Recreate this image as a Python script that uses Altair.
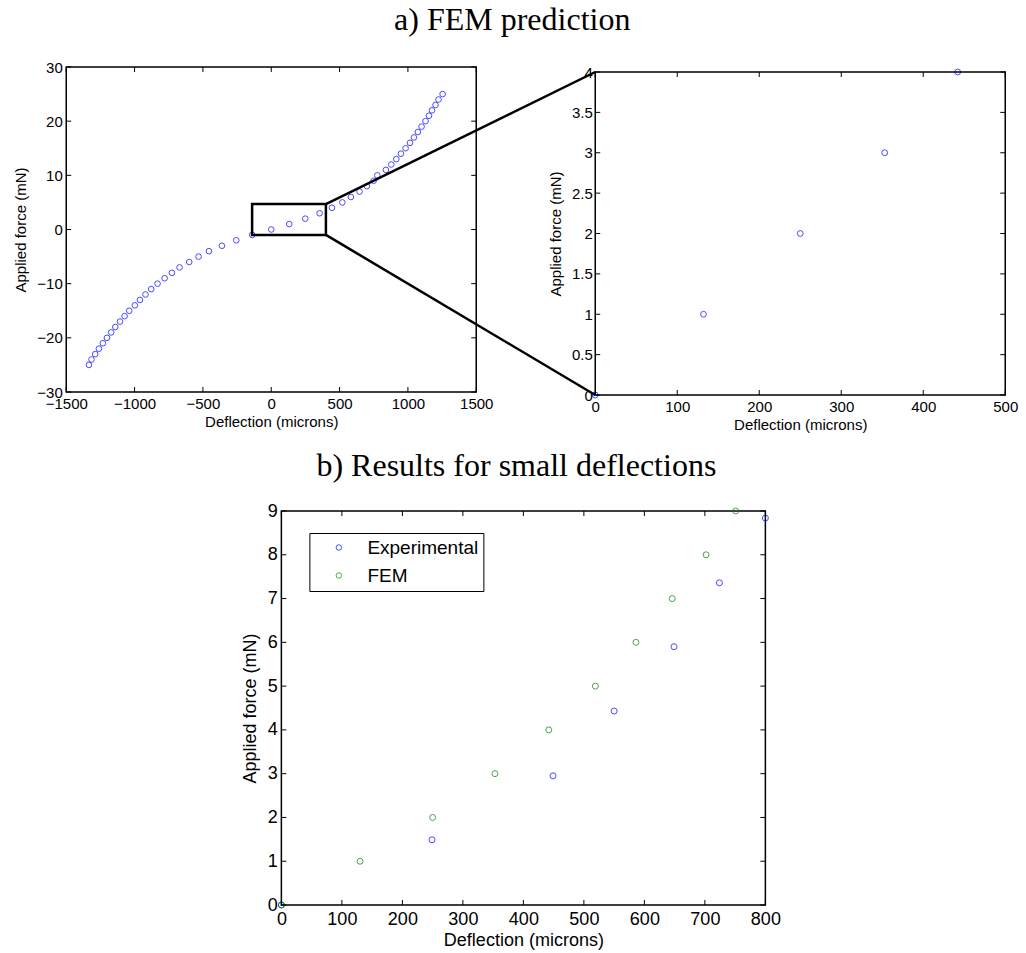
import altair as alt
import pandas as pd

# ---------------- data ----------------
# a) full FEM prediction (left panel)
fem_full_x = [-1334, -1315, -1288, -1261, -1232, -1202, -1171, -1141, -1107, -1073,
              -1039, -998, -961, -920, -878, -832, -780, -727, -671, -600,
              -532, -456, -361, -256, -139, 0, 132, 249, 354, 444,
              520, 583, 646, 700, 749, 776, 839, 878, 915, 949,
              983, 1015, 1044, 1073, 1100, 1129, 1154, 1176, 1202, 1224, 1254]
fem_full_y = [-25, -24, -23, -22, -21, -20, -19, -18, -17, -16,
              -15, -14, -13, -12, -11, -10, -9, -8, -7, -6,
              -5, -4, -3, -2, -1, 0, 1, 2, 3, 4,
              5, 6, 7, 8, 9, 10, 11, 12, 13, 14,
              15, 16, 17, 18, 19, 20, 21, 22, 23, 24, 25]
zoom_box_x = [-140, 400]
zoom_box_y = [-1.0, 4.7]

# a) zoomed FEM prediction (right panel)
fem_zoom_x = [0, 132, 250, 353, 442]
fem_zoom_y = [0, 1, 2, 3, 4]

# b) small deflections
exp_x = [0, 249, 449, 550, 649, 724, 800]
exp_y = [0, 1.49, 2.95, 4.43, 5.90, 7.36, 8.84]
fem_x = [0, 130, 250, 353, 442, 519, 586, 646, 702, 751]
fem_y = [0, 1, 2, 3, 4, 5, 6, 7, 8, 9]
series_names = ["Experimental", "FEM"]
series_colors = ["#0000ff", "#008000"]

# axis domains and tick values
a_xdomain, a_ydomain = [-1500, 1500], [-30, 30]
z_xdomain, z_ydomain = [0, 500], [0, 4]
b_xdomain, b_ydomain = [0, 800], [0, 9]
a_xticks = [-1500, -1000, -500, 0, 500, 1000, 1500]
a_yticks = [-30, -20, -10, 0, 10, 20, 30]
z_xticks = [0, 100, 200, 300, 400, 500]
z_yticks = [0, 0.5, 1, 1.5, 2, 2.5, 3, 3.5, 4]
b_xticks = [0, 100, 200, 300, 400, 500, 600, 700, 800]
b_yticks = [0, 1, 2, 3, 4, 5, 6, 7, 8, 9]

FONT = "Liberation Sans"
SERIF = "Liberation Serif"

# layout (pixels)
W1, H1 = 410, 325
W2, H2, TOP2 = 410, 328, 5
GAP = 119
W3, H3 = 484, 394
TICK = 5
XT = "Deflection (microns)"
YT = "Applied force (mN)"


def axis(values, size, label_pad, title_pad, fmt=None):
    kw = dict(values=values, labelFontSize=size, titleFontSize=size,
              labelPadding=label_pad, titlePadding=title_pad,
              labelFlush=False, labelOverlap=False, ticks=False, domain=False,
              grid=False, labelFont=FONT, titleFont=FONT, labelColor="black",
              titleColor="black", titleFontWeight="normal")
    if fmt:
        kw["format"] = fmt
    return alt.Axis(**kw)


def inward_ticks(xt, yt, xenc, yenc, W, H, top=0):
    xdf = pd.DataFrame({"t": xt})
    ydf = pd.DataFrame({"t": yt})
    rx = alt.Chart(xdf).mark_rule(color="black", strokeWidth=1)
    ry = alt.Chart(ydf).mark_rule(color="black", strokeWidth=1)
    return [
        rx.encode(x=xenc("t"), y=alt.value(H), y2=alt.value(H - TICK)),
        rx.encode(x=xenc("t"), y=alt.value(top), y2=alt.value(top + TICK)),
        ry.encode(y=yenc("t"), x=alt.value(0), x2=alt.value(TICK)),
        ry.encode(y=yenc("t"), x=alt.value(W), x2=alt.value(W - TICK)),
    ]


def make_enc(kind, scale, ax, title):
    def f(field):
        if kind == "x":
            return alt.X(f"{field}:Q", scale=scale, axis=ax, title=title)
        return alt.Y(f"{field}:Q", scale=scale, axis=ax, title=title)
    return f


# ---------------- left panel ----------------
xe1 = make_enc("x", alt.Scale(domain=a_xdomain, nice=False, zero=False),
               axis(a_xticks, 15, 4, 3, fmt="d"), XT)
ye1 = make_enc("y", alt.Scale(domain=a_ydomain, nice=False, zero=False),
               axis(a_yticks, 15, 4, 8, fmt="d"), YT)
df_a = pd.DataFrame({"x": fem_full_x, "y": fem_full_y})
pts_a = alt.Chart(df_a).mark_point(shape="circle", filled=False, color="#0000ff",
                                   size=32, strokeWidth=1).encode(x=xe1("x"), y=ye1("y"))
df_box = pd.DataFrame({"x0": [zoom_box_x[0]], "x1": [zoom_box_x[1]],
                       "y0": [zoom_box_y[0]], "y1": [zoom_box_y[1]]})
box = alt.Chart(df_box).mark_rect(fillOpacity=0, stroke="black", strokeWidth=2.5).encode(
    x=xe1("x0"), x2="x1:Q", y=ye1("y0"), y2="y1:Q")
conn_top = alt.Chart(df_box).mark_rule(color="black", strokeWidth=2.5).encode(
    x=xe1("x1"), y=ye1("y1"), x2=alt.value(W1 + GAP), y2=alt.value(TOP2))
conn_bot = alt.Chart(df_box).mark_rule(color="black", strokeWidth=2.5).encode(
    x=xe1("x1"), y=ye1("y0"), x2=alt.value(W1 + GAP), y2=alt.value(H2))
left = alt.layer(pts_a, *inward_ticks(a_xticks, a_yticks, xe1, ye1, W1, H1),
                 box, conn_top, conn_bot).properties(
    width=W1, height=H1,
    title=alt.TitleParams("a) FEM prediction", font=SERIF, fontSize=32,
                          fontWeight="normal", color="black", anchor="middle",
                          frame="group", dx=241, offset=23))

# ---------------- right panel ----------------
xe2 = make_enc("x", alt.Scale(domain=z_xdomain, nice=False, zero=False),
               axis(z_xticks, 15, 4, 3), XT)
ye2 = make_enc("y", alt.Scale(domain=z_ydomain, nice=False, zero=False, range=[H2, TOP2]),
               axis(z_yticks, 15, 3, 8, fmt="~g"), YT)
df_z = pd.DataFrame({"x": fem_zoom_x, "y": fem_zoom_y})
pts_z = alt.Chart(df_z).mark_point(shape="circle", filled=False, color="#0000ff",
                                   size=34, strokeWidth=1).encode(x=xe2("x"), y=ye2("y"))
df_frame = pd.DataFrame({"x0": [z_xdomain[0]], "x1": [z_xdomain[1]],
                         "y0": [z_ydomain[0]], "y1": [z_ydomain[1]]})
frame2 = alt.Chart(df_frame).mark_rect(fillOpacity=0, stroke="black", strokeWidth=1.5).encode(
    x=xe2("x0"), x2="x1:Q", y=ye2("y0"), y2="y1:Q")
right = alt.layer(pts_z, *inward_ticks(z_xticks, z_yticks, xe2, ye2, W2, H2, top=TOP2),
                  frame2).properties(
    width=W2, height=H2, view=alt.ViewBackground(strokeOpacity=0))

top = alt.hconcat(left, right, spacing=GAP, bounds="flush")

# ---------------- bottom panel ----------------
xe3 = make_enc("x", alt.Scale(domain=b_xdomain, nice=False, zero=False),
               axis(b_xticks, 18, 5, 3), XT)
ye3 = make_enc("y", alt.Scale(domain=b_ydomain, nice=False, zero=False),
               axis(b_yticks, 18, 4, 8), YT)
df_b = pd.concat([
    pd.DataFrame({"x": exp_x, "y": exp_y, "s": series_names[0]}),
    pd.DataFrame({"x": fem_x, "y": fem_y, "s": series_names[1]}),
], ignore_index=True)
pts_b = alt.Chart(df_b).mark_point(shape="circle", filled=False, size=36, strokeWidth=1).encode(
    x=xe3("x"), y=ye3("y"),
    color=alt.Color("s:N", scale=alt.Scale(domain=series_names, range=series_colors),
                    legend=alt.Legend(title=None, orient="none", legendX=28, legendY=22,
                                      strokeColor="black", fillColor="white", padding=5,
                                      symbolOffset=15, labelOffset=19, rowPadding=8,
                                      labelFontSize=19, labelFont=FONT, labelColor="black",
                                      symbolType="circle", symbolSize=30,
                                      symbolStrokeWidth=1)),
    order=alt.Order("s:N"),
)
# invisible helper that widens the panel's bounds on the right so the centred
# panel sits where the reference has it
pad_b = alt.Chart(pd.DataFrame({"v": [0]})).mark_point(opacity=0, size=1).encode(
    x=alt.value(W3 + 36), y=alt.value(0))
bottom = alt.layer(pts_b, *inward_ticks(b_xticks, b_yticks, xe3, ye3, W3, H3), pad_b).properties(
    width=W3, height=H3,
    title=alt.TitleParams("b) Results for small deflections", font=SERIF, fontSize=32,
                          fontWeight="normal", color="black", anchor="middle",
                          frame="group", dx=-7, offset=19))

chart = alt.vconcat(top, bottom, center=True, spacing=17).resolve_legend(
    color="independent").properties(
    padding={"left": 13, "top": 3, "right": 3, "bottom": 3},
).configure_view(stroke="black", strokeWidth=1.5)

chart.save("out.html", embed_options={"renderer": "svg", "actions": False})
